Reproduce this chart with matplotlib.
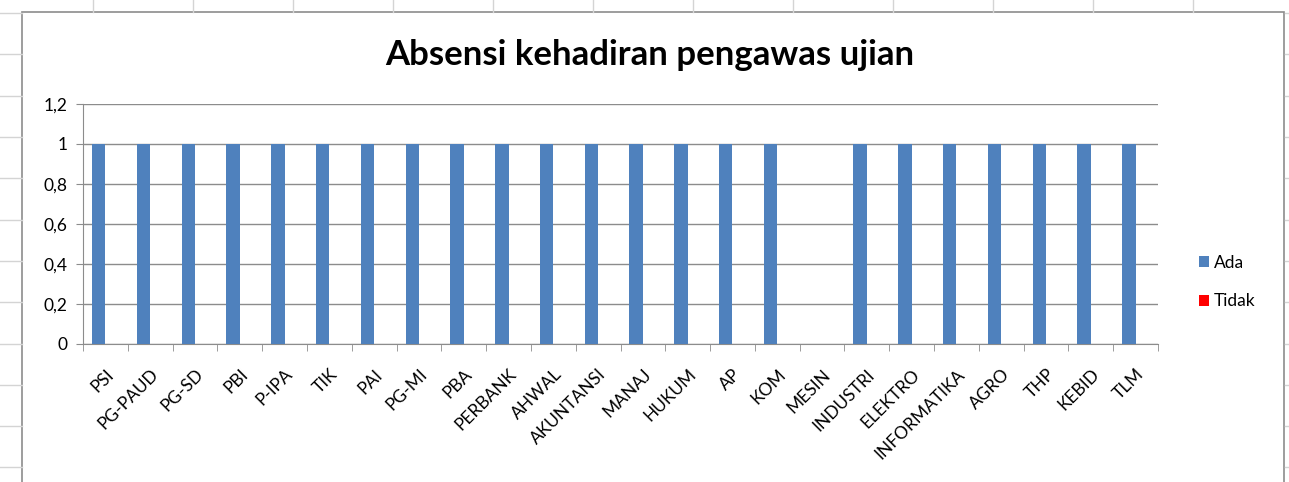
import matplotlib.pyplot as plt
import numpy as np

# data
jurusan = ['PSI', 'PG-PAUD', 'PG-SD', 'PBI', 'P-IPA', 'TIK', 'PAI', 'PG-MI', 'PBA',
           'PERBANK', 'AHWAL', 'AKUNTANSI', 'MANAJ', 'HUKUM', 'AP', 'KOM', 'MESIN',
           'INDUSTRI', 'ELEKTRO', 'INFORMATIKA', 'AGRO', 'THP', 'KEBID', 'TLM']
ada = [1, 1, 1, 1, 1, 1, 1, 1, 1, 1, 1, 1, 1, 1, 1, 1, 0, 1, 1, 1, 1, 1, 1, 1]
tidak = [0] * 24
y_ticks = [0, 0.2, 0.4, 0.6, 0.8, 1, 1.2]
y_labels = ['0', '0,2', '0,4', '0,6', '0,8', '1', '1,2']

plt.rcParams['font.family'] = ['Lato', 'DejaVu Sans']

W, H = 1289, 482
fig = plt.figure(figsize=(W / 100, H / 100), dpi=100)

# spreadsheet grid behind the chart
for xv in [93, 193, 293, 393, 493, 593, 693, 793, 893, 993, 1093, 1193]:
    fig.add_artist(plt.Line2D([xv / W, xv / W], [1, 1 - 12 / H], color='#d4d4d4', lw=1))
for yv in [13, 54, 96, 137, 178, 220, 261, 302, 344, 385, 426, 467]:
    fig.add_artist(plt.Line2D([0, 22 / W], [1 - yv / H, 1 - yv / H], color='#d4d4d4', lw=1))
    fig.add_artist(plt.Line2D([1285 / W, 1], [1 - yv / H, 1 - yv / H], color='#d4d4d4', lw=1))
# chart frame
fig.add_artist(plt.Rectangle((22 / W, -0.1), (1284 - 22) / W, 1.1 - 12 / H,
                             fill=False, edgecolor='#8c8c8c', lw=1.2))

ax = fig.add_axes([83 / W, 1 - 344 / H, (1158 - 83) / W, (344 - 104) / H])
x = np.arange(len(jurusan))
bw = 0.3
ax.bar(x - bw / 2, ada, bw, color='#4f81bd', label='Ada', zorder=3)
ax.bar(x + bw / 2, tidak, bw, color='#ff0000', label='Tidak', zorder=3)

ax.set_xlim(-0.5, len(jurusan) - 0.5)
ax.set_ylim(0, 1.2)
ax.set_yticks(y_ticks)
ax.set_yticklabels(y_labels, fontsize=12.5)
ax.yaxis.grid(True, color='#8c8c8c', lw=1)
ax.set_axisbelow(True)
ax.set_xticks(x)
ax.set_xticklabels(jurusan, rotation=45, ha='right', rotation_mode='anchor', fontsize=12.5)
ax.set_xticks(np.arange(-0.5, len(jurusan)), minor=True)
ax.tick_params(axis='x', which='major', length=0, pad=16)
ax.tick_params(axis='x', which='minor', length=5, color='#8c8c8c')
ax.tick_params(axis='y', length=5, color='#8c8c8c', pad=6)
for s in ['top', 'right']:
    ax.spines[s].set_visible(False)
for s in ['left', 'bottom']:
    ax.spines[s].set_color('#8c8c8c')

fig.text(650 / W, 1 - 55 / H, 'Absensi kehadiran pengawas ujian', fontsize=25,
         fontweight='bold', ha='center', va='center')

fig.legend(loc='center left', bbox_to_anchor=(1183 / W, 1 - 282 / H), frameon=False,
           fontsize=12.5, handlelength=0.6, handleheight=0.6, handletextpad=0.3,
           labelspacing=1.3)

fig.savefig('out.png', dpi=100)
